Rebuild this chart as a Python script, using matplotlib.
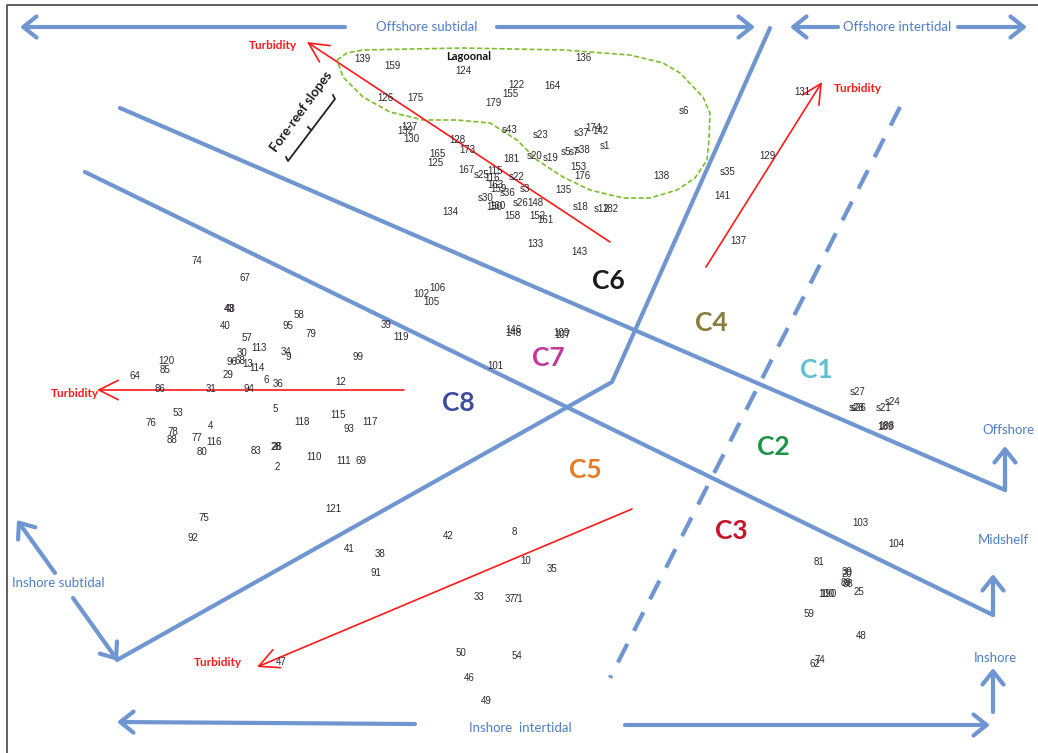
import matplotlib
matplotlib.use("Agg")
import matplotlib.pyplot as plt
from matplotlib.patches import Polygon

# === DATA: site labels and their ordination positions (diagram units) ===
site_ids = [
    "139", "159", "124", "136", "122", "155", "164", "179", "126", "175", "s6",
    "127", "132", "130", "s43", "s23", "s37", "174", "142", "s38", "s1",
    "128", "165", "125", "173", "181", "s20", "s19", "s5", "s7", "153", "176", "138",
    "167", "s25", "115", "116", "s22", "163", "159", "s36", "s3", "135",
    "s30", "160", "150", "s26", "148", "158", "152", "161", "s18", "s12", "182",
    "134", "133", "143",
    "74", "67", "43", "48", "40", "58", "95", "79", "57", "113", "30", "34", "9",
    "96", "68", "13", "114", "120", "85", "64", "29", "6", "36", "12", "99",
    "39", "119", "86", "31", "94", "5", "53", "76", "118", "115", "117", "93",
    "4", "78", "88", "77", "116", "80", "83", "28", "26", "2", "110", "111", "69",
    "102", "106", "105", "146", "148", "109", "107", "101",
    "s27", "s28", "s26", "s24", "s21", "189", "188", "103", "104", "81",
    "39", "20", "89", "88", "25", "100", "190", "59", "48", "74", "62",
    "131", "129", "s35", "141", "137",
    "75", "92", "121", "41", "38", "91", "42", "8", "10", "35", "33", "37", "71",
    "50", "54", "46", "49", "47",
]
site_x = [
    362, 392, 463, 583, 516, 510, 552, 493, 385, 415, 684,
    409, 405, 411, 510, 541, 582, 593, 600, 583, 605,
    457, 437, 435, 467, 511, 535, 551, 566, 574, 578, 582, 661,
    466, 482, 495, 492, 517, 495, 498, 508, 525, 563,
    486, 497, 494, 521, 535, 512, 537, 545, 581, 602, 610,
    450, 535, 579,
    197, 245, 229, 230, 225, 299, 288, 311, 247, 259, 242, 286, 288,
    232, 240, 248, 257, 166, 165, 135, 228, 266, 278, 341, 358,
    386, 401, 160, 211, 249, 275, 178, 151, 302, 338, 370, 349,
    210, 173, 172, 197, 214, 202, 256, 276, 277, 277, 314, 344, 361,
    421, 437, 431, 513, 513, 561, 562, 495,
    858, 857, 859, 893, 884, 885, 886, 860, 896, 819,
    847, 847, 846, 848, 859, 826, 828, 809, 861, 820, 815,
    802, 767, 728, 722, 738,
    204, 193, 333, 349, 380, 376, 448, 514, 526, 552, 479, 510, 518,
    461, 517, 469, 486, 281,
]
site_y = [
    59, 66, 71, 58, 85, 94, 86, 103, 98, 98, 111,
    127, 131, 139, 130, 135, 133, 128, 131, 150, 146,
    140, 154, 163, 150, 159, 156, 158, 152, 152, 167, 176, 176,
    170, 175, 171, 178, 177, 185, 189, 193, 189, 190,
    198, 206, 207, 203, 203, 216, 216, 220, 207, 209, 209,
    212, 244, 252,
    261, 278, 309, 309, 326, 315, 326, 334, 338, 348, 353, 352, 357,
    362, 361, 364, 368, 361, 370, 376, 375, 380, 384, 382, 357,
    325, 337, 389, 389, 389, 409, 413, 423, 422, 415, 422, 429,
    426, 432, 440, 438, 442, 452, 451, 447, 447, 467, 457, 461, 461,
    294, 288, 302, 330, 333, 333, 335, 366,
    392, 408, 408, 402, 408, 427, 426, 523, 544, 562,
    572, 574, 583, 584, 592, 594, 594, 614, 636, 660, 664,
    92, 156, 172, 196, 241,
    518, 538, 509, 549, 554, 573, 536, 532, 561, 569, 597, 599, 599,
    653, 656, 678, 701, 662,
]

clusters = ["C6", "C4", "C7", "C1", "C8", "C2", "C5", "C3"]
cluster_x = [608, 711, 548, 816, 458, 773, 585, 731]
cluster_y = [281, 323, 358, 370, 403, 447, 470, 531]
cluster_colors = ["#1a1a1a", "#8a7d3c", "#c2399c", "#5ec1cf", "#3d4c9e", "#1e9448", "#e87a22", "#c8132b"]

BLUE = "#6f96d1"
RED = "#ff1a1a"
FONT = ["Lato", "DejaVu Sans"]

fig = plt.figure(figsize=(10.38, 7.53), dpi=100)
ax = fig.add_axes([0, 0, 1, 1])
ax.set_xlim(0, 1038)
ax.set_ylim(753, 0)
ax.axis("off")

# frame
ax.plot([7, 7, 1038], [753, 5, 5], color="#444444", lw=1.2)

# === zone boundaries ===
ax.plot([120, 1005, 1005], [108, 490, 470], color=BLUE, lw=3, solid_capstyle="round")
ax.plot([85, 993, 993], [172, 615, 600], color=BLUE, lw=3, solid_capstyle="round")
ax.plot([770, 612, 117], [28, 382, 660], color=BLUE, lw=3, solid_capstyle="round")
ax.plot([900, 610], [107, 678], color=BLUE, lw=3, ls=(0, (5, 3.5)))


def blue_arrow(x0, y0, x1, y1):
    ax.annotate("", xy=(x1, y1), xytext=(x0, y0),
                arrowprops=dict(arrowstyle="->,head_length=0.5,head_width=0.4",
                                color=BLUE, lw=3, mutation_scale=19,
                                shrinkA=0, shrinkB=0))


# edge arrows
blue_arrow(345, 27, 20, 27)
blue_arrow(497, 27, 755, 27)
blue_arrow(838, 27, 790, 27)
blue_arrow(958, 27, 1027, 27)
blue_arrow(415, 724, 117, 722)
blue_arrow(625, 725, 990, 725)
blue_arrow(1005, 490, 1005, 446)
blue_arrow(993, 615, 993, 574)
blue_arrow(993, 712, 993, 668)
blue_arrow(55, 573, 17, 520)
blue_arrow(73, 598, 118, 661)

edge_labels = [
    ("Offshore subtidal", 427, 27), ("Offshore intertidal", 897, 27),
    ("Inshore  intertidal", 520, 728), ("Offshore", 1008, 430),
    ("Midshelf", 1003, 540), ("Inshore", 995, 658), ("Inshore subtidal", 58, 583),
]
for txt, x, y in edge_labels:
    ax.text(x, y, txt, color="#4f7fc7", fontsize=9.5, family=FONT,
            ha="center", va="center")

# === lagoonal envelope ===
lagoon_x = [337, 347, 363, 463, 563, 630, 663, 680, 703, 710, 709, 707, 695, 680,
            677, 650, 623, 590, 563, 537, 517, 490, 457, 423, 390, 363, 343]
lagoon_y = [60, 53, 50, 48, 50, 55, 63, 73, 97, 113, 140, 160, 178, 188,
            190, 198, 198, 190, 177, 160, 140, 123, 120, 120, 112, 97, 77]
ax.add_patch(Polygon(list(zip(lagoon_x, lagoon_y)), closed=True, fill=False,
                     edgecolor="#7cbf2a", lw=1.2, ls=(0, (3, 1.5))))
ax.text(469, 56, "Lagoonal", fontsize=8, fontweight="bold", family=FONT,
        ha="center", va="center", color="#111111")

# fore-reef slopes bracket
ax.plot([286, 288, 335, 333], [157, 161, 99, 95], color="#222222", lw=1.3)
ax.plot([311, 308], [130, 127], color="#222222", lw=1.3)
ax.text(301, 112, "Fore-reef slopes", rotation=54, fontsize=9.5, fontweight="bold",
        family=FONT, ha="center", va="center", color="#1a1a1a")

# === turbidity gradients ===
turb = [((610, 242), (307, 42), (273, 45)),
        ((706, 267), (822, 82), (858, 88)),
        ((404, 390), (97, 390), (75, 393)),
        ((632, 509), (257, 667), (218, 663))]
for (x0, y0), (x1, y1), (tx, ty) in turb:
    ax.annotate("", xy=(x1, y1), xytext=(x0, y0),
                arrowprops=dict(arrowstyle="->,head_length=0.7,head_width=0.35",
                                color=RED, lw=1.2, mutation_scale=20,
                                shrinkA=0, shrinkB=0))
    ax.text(tx, ty, "Turbidity", color=RED, fontsize=8.5, fontweight="bold",
            family=FONT, ha="center", va="center")

# === sites ===
for s, x, y in zip(site_ids, site_x, site_y):
    ax.text(x, y, s, fontsize=7, family=["Liberation Sans", "DejaVu Sans"],
            ha="center", va="center", color="#2e2630")

# === cluster labels ===
for c, x, y, col in zip(clusters, cluster_x, cluster_y, cluster_colors):
    ax.text(x, y, c, fontsize=19, fontweight="bold", family=FONT,
            ha="center", va="center", color=col)

fig.savefig("out.png", dpi=100)
plt.close(fig)
